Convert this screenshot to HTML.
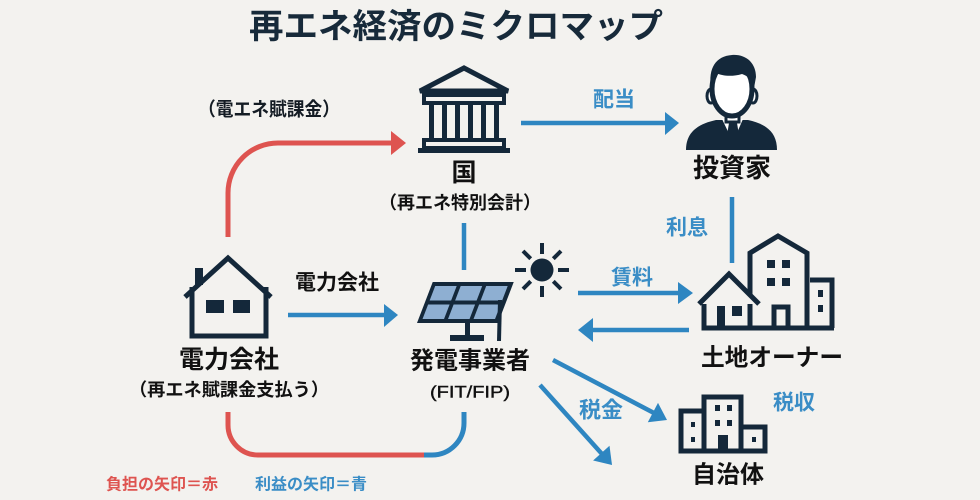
<!DOCTYPE html>
<html><head><meta charset="utf-8"><style>
html,body{margin:0;padding:0;background:#f3f2ef;}
svg{display:block;}
text{font-family:"Liberation Sans","Noto Sans CJK JP",sans-serif;font-weight:700;}
</style></head><body>
<svg width="980" height="500" viewBox="0 0 980 500" xmlns="http://www.w3.org/2000/svg">
<rect width="980" height="500" fill="#f3f2ef"/>

<!-- Title -->
<text x="456" y="27" font-size="34" fill="#172a3a" text-anchor="middle" dominant-baseline="central" textLength="414" lengthAdjust="spacingAndGlyphs">再エネ経済のミクロマップ</text>

<!-- Red top arrow -->
<path d="M228,237 V193 A50,50 0 0 1 278,143 H393" fill="none" stroke="#de5450" stroke-width="5"/>
<polygon points="391,131 406,143 391,155" fill="#de5450"/>
<text x="269" y="110" font-size="19" fill="#141c24" text-anchor="middle" dominant-baseline="central" textLength="142" lengthAdjust="spacingAndGlyphs">（電エネ賦課金）</text>

<!-- Bank icon -->
<g fill="none" stroke="#14283a">
<path d="M420,91 L464,68 L508,91 Z" stroke-width="5" stroke-linejoin="miter"/>
<rect x="424" y="95" width="80" height="8" stroke-width="4"/>
<rect x="424" y="140" width="80" height="8" stroke-width="4"/>
</g>
<g fill="#14283a">
<rect x="429" y="103" width="5" height="37"/>
<rect x="442" y="103" width="5" height="37"/>
<rect x="455" y="103" width="5" height="37"/>
<rect x="468" y="103" width="5" height="37"/>
<rect x="481" y="103" width="5" height="37"/>
<rect x="494" y="103" width="5" height="37"/>
<rect x="418" y="148" width="92" height="5"/>
</g>
<text x="464" y="173" font-size="25" fill="#111" text-anchor="middle" dominant-baseline="central">国</text>
<text x="460" y="203" font-size="18" fill="#111" text-anchor="middle" dominant-baseline="central" textLength="162" lengthAdjust="spacingAndGlyphs">（再エネ特別会計）</text>

<!-- 配当 arrow -->
<line x1="521" y1="123" x2="667" y2="123" stroke="#2e86c1" stroke-width="4.5"/>
<polygon points="665,112 679,123 665,135" fill="#2e86c1"/>
<text x="614" y="100" font-size="21" fill="#3a8dc6" text-anchor="middle" dominant-baseline="central">配当</text>

<!-- Investor -->
<g>
<path d="M686,150 C686,132 698,124 716,120 L748,120 C766,124 777,132 777,150 Z" fill="#14283a"/>
<polygon points="722,119 743,119 733,142" fill="#fff"/>
<path d="M729,123 H737 L738,129 L740,141 L733,148 L726,141 L728,129 Z" fill="#14283a"/>
<rect x="726" y="110" width="13" height="12" fill="#fff" stroke="#14283a" stroke-width="3"/>
<ellipse cx="711" cy="96" rx="4" ry="7" fill="#fff" stroke="#14283a" stroke-width="3"/>
<ellipse cx="753" cy="96" rx="4" ry="7" fill="#fff" stroke="#14283a" stroke-width="3"/>
<ellipse cx="732" cy="89" rx="20" ry="27" fill="#fff" stroke="#14283a" stroke-width="5"/>
<path d="M711,88 C708,68 716,56 732,55 C746,54 756,63 756,77 L754,88 C752,80 748,76 742,74 C732,77 722,76 716,73 C713,78 712,83 711,88 Z" fill="#14283a"/>
</g>
<text x="732" y="168" font-size="26" fill="#111" text-anchor="middle" dominant-baseline="central">投資家</text>

<!-- 利息 line -->
<line x1="732" y1="197" x2="732" y2="263" stroke="#2e86c1" stroke-width="4.5"/>
<text x="687" y="228" font-size="21" fill="#3a8dc6" text-anchor="middle" dominant-baseline="central">利息</text>

<!-- Bank to panel line -->
<line x1="464" y1="223" x2="464" y2="270" stroke="#2e86c1" stroke-width="4.5"/>

<!-- House icon -->
<g fill="none" stroke="#14283a" stroke-width="5">
<path d="M185,297 L228,258 L271,297" stroke-linejoin="miter"/>
<path d="M192,287 V336 H266 V287"/>
<line x1="199" y1="268" x2="199" y2="285" stroke-width="8"/>
</g>
<rect x="206" y="300" width="18" height="13" fill="#14283a"/>
<rect x="233" y="300" width="17" height="13" fill="#14283a"/>
<text x="229" y="360" font-size="25" fill="#111" text-anchor="middle" dominant-baseline="central">電力会社</text>
<text x="229" y="390" font-size="18" fill="#111" text-anchor="middle" dominant-baseline="central" textLength="200" lengthAdjust="spacingAndGlyphs">（再エネ賦課金支払う）</text>

<!-- 電力会社 arrow -->
<line x1="288" y1="315" x2="386" y2="315" stroke="#2e86c1" stroke-width="4.5"/>
<polygon points="384,304 398,315 384,327" fill="#2e86c1"/>
<text x="337" y="283" font-size="21" fill="#111" text-anchor="middle" dominant-baseline="central">電力会社</text>

<!-- Solar panel -->
<g transform="translate(417,323) skewX(-21)">
<rect x="0" y="-41" width="81" height="41" fill="#14283a"/>
<g fill="#8eafd2">
<rect x="4" y="-37" width="21.5" height="14.5"/>
<rect x="29.5" y="-37" width="21.5" height="14.5"/>
<rect x="55" y="-37" width="21.5" height="14.5"/>
<rect x="4" y="-18.5" width="21.5" height="14.5"/>
<rect x="29.5" y="-18.5" width="21.5" height="14.5"/>
<rect x="55" y="-18.5" width="21.5" height="14.5"/>
</g>
</g>
<rect x="465" y="322" width="5" height="14" fill="#14283a"/>
<rect x="450" y="335" width="34" height="6" fill="#14283a"/>
<line x1="500" y1="300" x2="499" y2="341" stroke="#14283a" stroke-width="4"/>
<text x="470" y="361" font-size="24" fill="#111" text-anchor="middle" dominant-baseline="central">発電事業者</text>
<text x="470" y="392" font-size="17" fill="#111" stroke="#111" stroke-width="0.4" style="font-weight:400" text-anchor="middle" dominant-baseline="central" textLength="80" lengthAdjust="spacingAndGlyphs">(FIT/FIP)</text>

<!-- Sun -->
<g stroke="#14283a" stroke-width="4">
<circle cx="542" cy="270" r="11.5" fill="#14283a" stroke="none"/>
<line x1="542" y1="254" x2="542" y2="243"/>
<line x1="542" y1="286" x2="542" y2="297"/>
<line x1="526" y1="270" x2="515" y2="270"/>
<line x1="558" y1="270" x2="569" y2="270"/>
<line x1="530.7" y1="258.7" x2="523" y2="251"/>
<line x1="553.3" y1="258.7" x2="561" y2="251"/>
<line x1="530.7" y1="281.3" x2="523" y2="289"/>
<line x1="553.3" y1="281.3" x2="561" y2="289"/>
</g>

<!-- 賃料 arrows -->
<line x1="578" y1="293" x2="680" y2="293" stroke="#2e86c1" stroke-width="4.5"/>
<polygon points="678,282 693,293 678,304" fill="#2e86c1"/>
<text x="632" y="278" font-size="21" fill="#3a8dc6" text-anchor="middle" dominant-baseline="central">賃料</text>
<line x1="689" y1="330" x2="591" y2="330" stroke="#2e86c1" stroke-width="4.5"/>
<polygon points="593,318 578,330 593,342" fill="#2e86c1"/>

<!-- Landowner buildings -->
<g fill="none" stroke="#14283a" stroke-width="5" stroke-linejoin="miter">
<path d="M750,328 V253 L778,236 L807,253 V328"/>
<path d="M810,280 H832 V328"/>
<path d="M704,298 V328 H834"/>
<path d="M699,304 L729,274 L759,304" fill="#f3f2ef"/>
<rect x="774" y="307" width="14" height="21"/>
</g>
<g fill="#14283a">
<rect x="767" y="260" width="8" height="8"/>
<rect x="782" y="260" width="8" height="8"/>
<rect x="767" y="278" width="8" height="8"/>
<rect x="782" y="278" width="8" height="8"/>
<rect x="717" y="306" width="8" height="22"/>
<rect x="732" y="306" width="10" height="10"/>
<rect x="818" y="290" width="5" height="7"/>
<rect x="818" y="305" width="5" height="7"/>
</g>
<text x="772" y="358" font-size="24" fill="#111" text-anchor="middle" dominant-baseline="central" textLength="142" lengthAdjust="spacingAndGlyphs">土地オーナー</text>

<!-- Diagonal tax arrows -->
<line x1="553" y1="360" x2="654" y2="413" stroke="#2e86c1" stroke-width="4.5"/>
<polygon points="647.8,422.3 667,420 658,402.9" fill="#2e86c1"/>
<line x1="540" y1="385" x2="602" y2="454" stroke="#2e86c1" stroke-width="4.5"/>
<polygon points="593.1,460.5 612,465 609.5,445.7" fill="#2e86c1"/>
<text x="601" y="410" font-size="22" fill="#3a8dc6" text-anchor="middle" dominant-baseline="central">税金</text>
<text x="794" y="403" font-size="21" fill="#3a8dc6" text-anchor="middle" dominant-baseline="central">税収</text>

<!-- 自治体 building -->
<g fill="none" stroke="#14283a" stroke-width="5">
<rect x="681" y="411" width="23" height="40"/>
<rect x="704" y="397" width="37" height="54"/>
<rect x="741" y="427" width="24" height="24"/>
</g>
<g fill="#14283a">
<rect x="715" y="405" width="5" height="6"/>
<rect x="727" y="405" width="5" height="6"/>
<rect x="715" y="420" width="5" height="6"/>
<rect x="727" y="420" width="5" height="6"/>
<rect x="718" y="435" width="10" height="17"/>
<rect x="691" y="422" width="4" height="5"/>
<rect x="691" y="437" width="4" height="5"/>
<rect x="752" y="437" width="4" height="5"/>
</g>
<text x="728" y="475" font-size="24" fill="#111" text-anchor="middle" dominant-baseline="central">自治体</text>

<!-- Bottom U path -->
<path d="M228,412 V425 A30,30 0 0 0 258,455 H426" fill="none" stroke="#de5450" stroke-width="5"/>
<path d="M424,455 H432 A32,32 0 0 0 464,423 V412" fill="none" stroke="#2e86c1" stroke-width="5"/>

<!-- Legend -->
<text x="162" y="485" font-size="16" fill="#de5450" text-anchor="middle" dominant-baseline="central" textLength="112" lengthAdjust="spacingAndGlyphs">負担の矢印＝赤</text>
<text x="311" y="485" font-size="16" fill="#3a8dc6" text-anchor="middle" dominant-baseline="central" textLength="112" lengthAdjust="spacingAndGlyphs">利益の矢印＝青</text>
</svg>
</body></html>
